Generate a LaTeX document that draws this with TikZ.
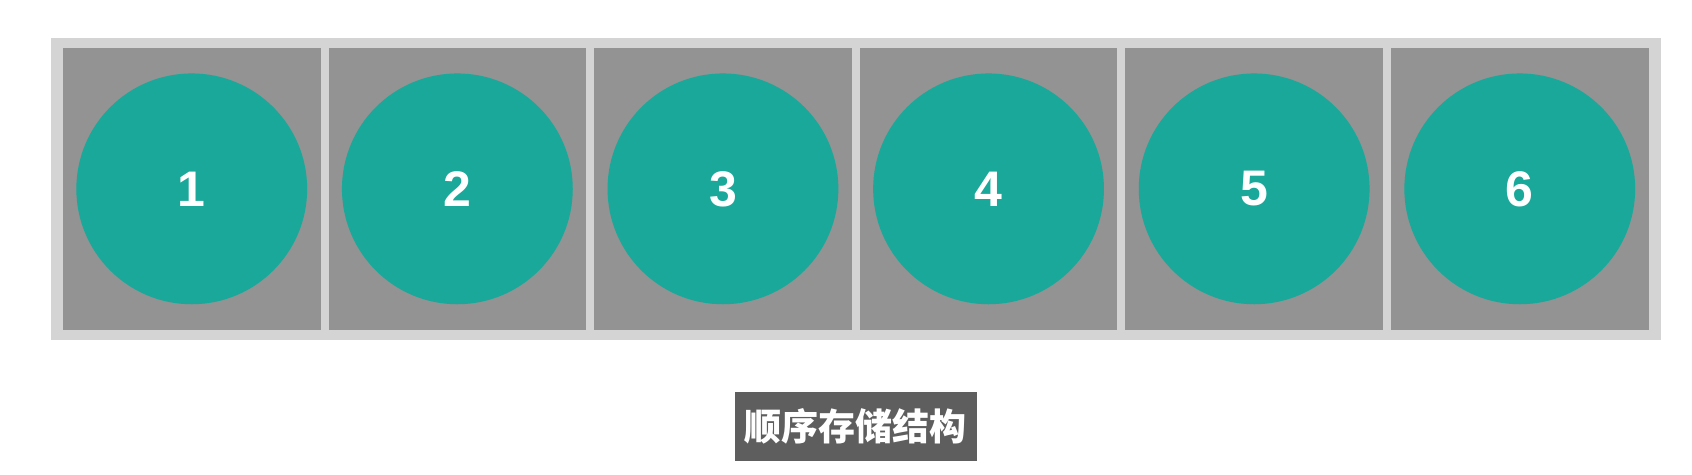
\documentclass[tikz,border=0pt]{standalone}
\usepackage{fontspec}
\setmainfont{Liberation Sans}
\newfontfamily\cjk{Noto Sans CJK SC}
\usetikzlibrary{positioning}

\definecolor{framegray}{HTML}{D4D4D4}
\definecolor{cellgray}{HTML}{939393}
\definecolor{teal}{HTML}{19A89A}
\definecolor{labelgray}{HTML}{5E5E5E}

\begin{document}
\begin{tikzpicture}[
    x=1pt, y=-1pt,
    node distance=8.1pt,
    frame/.style={rectangle, fill=framegray, minimum width=1610pt, minimum height=302.3pt, inner sep=0pt, outer sep=0pt},
    cell/.style={rectangle, fill=cellgray, minimum width=257.5pt, minimum height=282.3pt, inner sep=0pt, outer sep=0pt},
    ball/.style={circle, fill=teal, minimum size=230.8pt, inner sep=0pt, text=white, font=\fontsize{50}{60}\selectfont\bfseries},
    caption/.style={rectangle, fill=labelgray, minimum width=242pt, minimum height=68.5pt, inner sep=0pt, text=white, font=\fontsize{37}{44}\selectfont\cjk\bfseries}
]
\useasboundingbox (0,0) rectangle (1692,474);

% 外框
\node[frame] (frame) at (855.5,188.85) {};

% 存储单元
\node[cell] (cell1) at (191.75,188.85) {};
\node[cell, right=of cell1] (cell2) {};
\node[cell, right=of cell2] (cell3) {};
\node[cell, right=of cell3] (cell4) {};
\node[cell, right=of cell4] (cell5) {};
\node[cell, right=of cell5] (cell6) {};

% 数据元素
\node[ball] (elem1) at (cell1) {1};
\node[ball] (elem2) at (cell2) {2};
\node[ball] (elem3) at (cell3) {3};
\node[ball] (elem4) at (cell4) {4};
\node[ball] (elem5) at (cell5) {5};
\node[ball] (elem6) at (cell6) {6};

% 标题
\node[caption] (title) at (855.5,426.5) {顺序存储结构};

\end{tikzpicture}
\end{document}
